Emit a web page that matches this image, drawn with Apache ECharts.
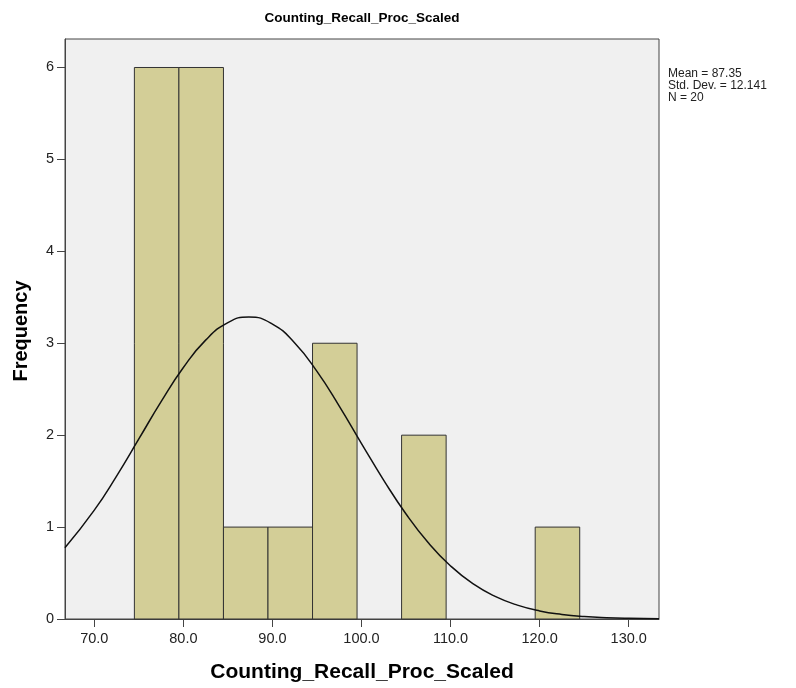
<!DOCTYPE html>
<html><head><meta charset="utf-8">
<script src="https://cdn.jsdelivr.net/npm/echarts@6/dist/echarts.min.js"></script>
<style>html,body{margin:0;padding:0;background:#fff}#c{width:796px;height:688px}</style>
</head><body><div id="c"></div>
<script>
// Histogram bins (lower edge, upper edge) and counts
const binLow  = [74.5, 79.5, 84.5, 89.5, 94.5, 104.5, 119.5];
const binHigh = [79.5, 84.5, 89.5, 94.5, 99.5, 109.5, 124.5];
const counts  = [6, 6, 1, 1, 3, 2, 1];
// Normal curve values
const curveX = [66.7, 70, 72.5, 75, 77.5, 80, 82.5, 85, 87.35, 90, 92.5, 95, 97.5, 100, 102.5, 105, 107.5, 110, 112.5, 115, 117.5, 120, 122.5, 125, 127.5, 130, 133.4];
const curveY = [0.774, 1.184, 1.555, 1.959, 2.365, 2.736, 3.034, 3.225, 3.286, 3.209, 3.003, 2.694, 2.317, 1.909, 1.509, 1.142, 0.829, 0.577, 0.384, 0.246, 0.151, 0.088, 0.050, 0.027, 0.014, 0.007, 0.0025];
const xTicks = [70, 80, 90, 100, 110, 120, 130];
const yTicks = [0, 1, 2, 3, 4, 5, 6];
const titleText = 'Counting_Recall_Proc_Scaled';
const xName = 'Counting_Recall_Proc_Scaled';
const yName = 'Frequency';
const statsLines = ['Mean = 87.35', 'Std. Dev. = 12.141', 'N = 20'];

const chart = echarts.init(document.getElementById('c'));
const font = 'Arial, "Liberation Sans", sans-serif';
chart.setOption({
  animation: false,
  backgroundColor: '#ffffff',
  grid: {left: 65, right: 137, top: 39, bottom: 69, show: true, backgroundColor: '#f0f0f0', borderColor: '#444', borderWidth: 1},
  xAxis: {
    type: 'value', min: 66.71, max: 133.4,
    splitLine: {show: false},
    axisLine: {show: true, lineStyle: {color: '#444', width: 1}},
    axisTick: {show: true, inside: false, length: 8, customValues: xTicks, lineStyle: {color: '#444'}},
    axisLabel: {customValues: xTicks, margin: 12, formatter: v => v.toFixed(1), fontFamily: font, fontSize: 14.5, color: '#222'}
  },
  yAxis: {
    type: 'value', min: 0, max: 6.31,
    splitLine: {show: false},
    axisLine: {show: true, lineStyle: {color: '#444', width: 1}},
    axisTick: {show: true, inside: false, length: 8, customValues: yTicks, lineStyle: {color: '#444'}},
    axisLabel: {customValues: yTicks, margin: 11, fontFamily: font, fontSize: 14.5, color: '#222'}
  },
  series: [
    {
      type: 'custom',
      data: counts.map((c, i) => [binLow[i], binHigh[i], c]),
      renderItem: function (params, api) {
        const p0 = api.coord([api.value(0), 0]);
        const p1 = api.coord([api.value(1), api.value(2)]);
        return {
          type: 'rect',
          shape: {x: p0[0], y: p1[1], width: p1[0] - p0[0], height: p0[1] - p1[1]},
          style: {fill: '#d3ce97', stroke: '#333', lineWidth: 1}
        };
      },
      z: 2
    },
    {
      type: 'line', smooth: true, showSymbol: false, symbol: 'none',
      data: curveX.map((x, i) => [x, curveY[i]]),
      lineStyle: {color: '#111', width: 1.5},
      z: 3
    }
  ],
  graphic: [
    {type: 'text', x: 362, y: 18, style: {text: titleText, font: 'bold 13.5px ' + font, fill: '#000', textAlign: 'center', textVerticalAlign: 'middle'}},
    {type: 'text', x: 362, y: 672, style: {text: xName, font: 'bold 21px ' + font, fill: '#000', textAlign: 'center', textVerticalAlign: 'middle'}},
    {type: 'text', x: 21, y: 331, rotation: Math.PI / 2, style: {text: yName, font: 'bold 20px ' + font, fill: '#000', textAlign: 'center', textVerticalAlign: 'middle'}},
    {type: 'text', x: 668, y: 68, style: {text: statsLines.join('\n'), font: '12px ' + font, lineHeight: 12, fill: '#222'}}
  ]
});
</script></body></html>
